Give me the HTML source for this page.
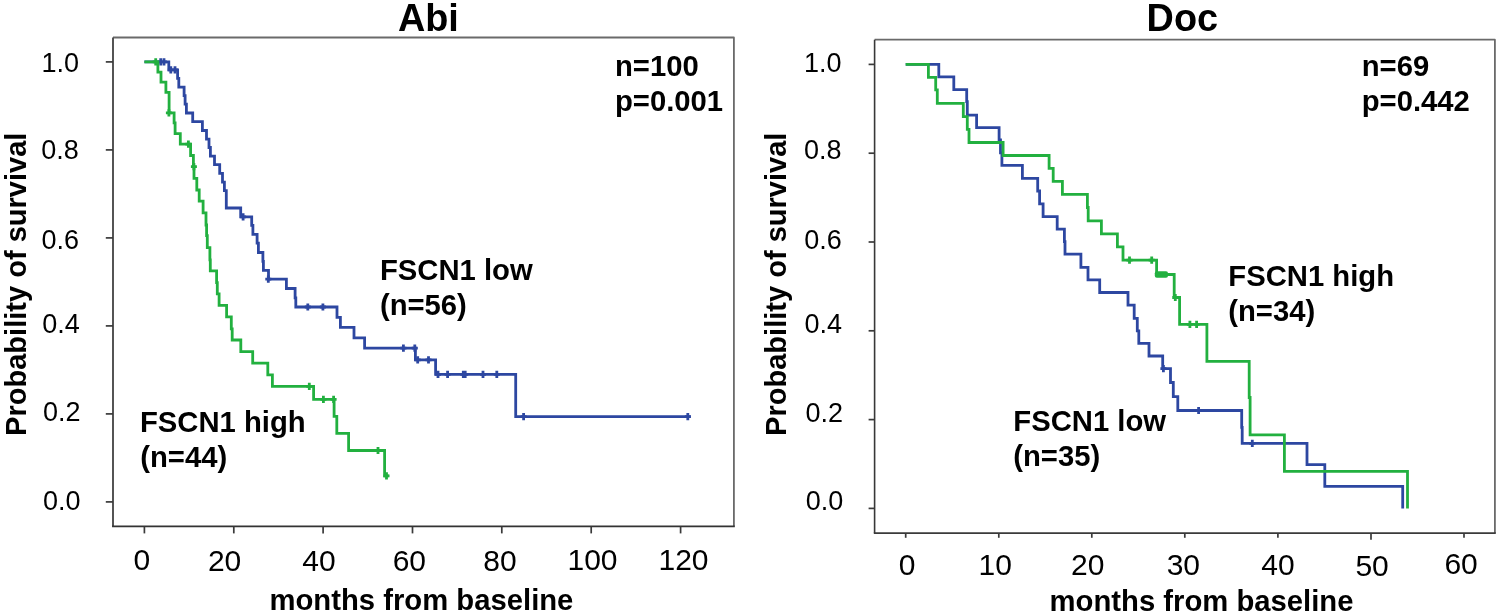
<!DOCTYPE html>
<html><head><meta charset="utf-8"><style>
html,body{margin:0;padding:0;background:#fff;overflow:hidden;}
svg{display:block;}
#wrap{width:1500px;height:616px;will-change:transform;}
text{font-family:"Liberation Sans",sans-serif;fill:#000;}
</style></head><body><div id="wrap">
<svg width="1500" height="616" viewBox="0 0 1500 616">
<rect width="1500" height="616" fill="#fff"/>
<path d="M113.0,37.5 H733.9 V526.4" fill="none" stroke="#6a6a6a" stroke-width="1.8" stroke-linejoin="round"/>
<path d="M113.0,37.5 V526.4" fill="none" stroke="#4c4c4c" stroke-width="1.9"/>
<path d="M112.05,526.4 H734.8" fill="none" stroke="#333" stroke-width="1.9"/>
<path d="M105.8,501.9 H113.0" stroke="#3a3a3a" stroke-width="1.7"/>
<path d="M105.8,413.9 H113.0" stroke="#3a3a3a" stroke-width="1.7"/>
<path d="M105.8,325.9 H113.0" stroke="#3a3a3a" stroke-width="1.7"/>
<path d="M105.8,237.9 H113.0" stroke="#3a3a3a" stroke-width="1.7"/>
<path d="M105.8,149.9 H113.0" stroke="#3a3a3a" stroke-width="1.7"/>
<path d="M105.8,61.9 H113.0" stroke="#3a3a3a" stroke-width="1.7"/>
<path d="M144.4,526.4 V533.4" stroke="#3a3a3a" stroke-width="1.7"/>
<path d="M233.8,526.4 V533.4" stroke="#3a3a3a" stroke-width="1.7"/>
<path d="M323.1,526.4 V533.4" stroke="#3a3a3a" stroke-width="1.7"/>
<path d="M412.5,526.4 V533.4" stroke="#3a3a3a" stroke-width="1.7"/>
<path d="M501.8,526.4 V533.4" stroke="#3a3a3a" stroke-width="1.7"/>
<path d="M591.2,526.4 V533.4" stroke="#3a3a3a" stroke-width="1.7"/>
<path d="M680.6,526.4 V533.4" stroke="#3a3a3a" stroke-width="1.7"/>
<path d="M874.6,39.7 H1494.9 V533.1" fill="none" stroke="#6a6a6a" stroke-width="1.8" stroke-linejoin="round"/>
<path d="M874.6,39.7 V533.1" fill="none" stroke="#383838" stroke-width="1.6"/>
<path d="M873.8000000000001,533.1 H1495.8000000000002" fill="none" stroke="#3a3a3a" stroke-width="1.8"/>
<path d="M868.6,508.4 H874.6" stroke="#3a3a3a" stroke-width="1.7"/>
<path d="M868.6,419.6 H874.6" stroke="#3a3a3a" stroke-width="1.7"/>
<path d="M868.6,330.8 H874.6" stroke="#3a3a3a" stroke-width="1.7"/>
<path d="M868.6,242.0 H874.6" stroke="#3a3a3a" stroke-width="1.7"/>
<path d="M868.6,153.2 H874.6" stroke="#3a3a3a" stroke-width="1.7"/>
<path d="M868.6,64.4 H874.6" stroke="#3a3a3a" stroke-width="1.7"/>
<path d="M905.7,533.1 V537.8000000000001" stroke="#3a3a3a" stroke-width="1.7"/>
<path d="M998.8,533.1 V537.8000000000001" stroke="#3a3a3a" stroke-width="1.7"/>
<path d="M1091.8,533.1 V537.8000000000001" stroke="#3a3a3a" stroke-width="1.7"/>
<path d="M1184.8,533.1 V537.8000000000001" stroke="#3a3a3a" stroke-width="1.7"/>
<path d="M1277.9,533.1 V537.8000000000001" stroke="#3a3a3a" stroke-width="1.7"/>
<path d="M1371.0,533.1 V539.7" stroke="#3a3a3a" stroke-width="1.7"/>
<path d="M1464.0,533.1 V537.8000000000001" stroke="#3a3a3a" stroke-width="1.7"/>
<text transform="translate(397.9,30.6) scale(1,1.03)" style="font-size:37.8px;font-weight:bold;" text-anchor="start" >Abi</text>
<text transform="translate(1146.6,30.5) scale(1,1.03)" style="font-size:37.8px;font-weight:bold;" text-anchor="start" >Doc</text>
<text transform="translate(615.0,75.9) scale(1,1.03)" style="font-size:29.25px;font-weight:bold;" text-anchor="start" >n=100</text>
<text transform="translate(615.0,111.2) scale(1,1.03)" style="font-size:29.25px;font-weight:bold;" text-anchor="start" >p=0.001</text>
<text transform="translate(1361.7,75.9) scale(1,1.03)" style="font-size:29.25px;font-weight:bold;" text-anchor="start" >n=69</text>
<text transform="translate(1361.7,111.0) scale(1,1.03)" style="font-size:29.25px;font-weight:bold;" text-anchor="start" >p=0.442</text>
<text transform="translate(379.9,279.9) scale(1,1.03)" style="font-size:29.25px;font-weight:bold;" text-anchor="start" >FSCN1 low</text>
<text transform="translate(379.9,315.0) scale(1,1.03)" style="font-size:29.25px;font-weight:bold;" text-anchor="start" >(n=56)</text>
<text transform="translate(140.0,432.4) scale(1,1.03)" style="font-size:29.25px;font-weight:bold;" text-anchor="start" >FSCN1 high</text>
<text transform="translate(140.2,467.3) scale(1,1.03)" style="font-size:29.25px;font-weight:bold;" text-anchor="start" >(n=44)</text>
<text transform="translate(1228.3,285.7) scale(1,1.03)" style="font-size:29.25px;font-weight:bold;" text-anchor="start" >FSCN1 high</text>
<text transform="translate(1228.2,321.0) scale(1,1.03)" style="font-size:29.25px;font-weight:bold;" text-anchor="start" >(n=34)</text>
<text transform="translate(1013.3,430.7) scale(1,1.03)" style="font-size:29.25px;font-weight:bold;" text-anchor="start" >FSCN1 low</text>
<text transform="translate(1013.2,465.7) scale(1,1.03)" style="font-size:29.25px;font-weight:bold;" text-anchor="start" >(n=35)</text>
<text transform="translate(269.5,610.3) scale(1,1.03)" style="font-size:29.25px;font-weight:bold;" text-anchor="start" >months from baseline</text>
<text transform="translate(1049.6,610.8) scale(1,1.03)" style="font-size:29.25px;font-weight:bold;" text-anchor="start" >months from baseline</text>
<text transform="translate(26.3,435.9) rotate(-90) scale(1,1.03)" style="font-size:29.05px;font-weight:bold">Probability of survival</text>
<text transform="translate(786.4,435.9) rotate(-90) scale(1,1.03)" style="font-size:29.05px;font-weight:bold">Probability of survival</text>
<text x="133.4" y="570.4" style="font-size:30px;" text-anchor="start" >0</text>
<text x="207.9" y="571.3" style="font-size:30px;" text-anchor="start" >20</text>
<text x="302.3" y="570.7" style="font-size:30px;" text-anchor="start" >40</text>
<text x="392.7" y="570.5" style="font-size:30px;" text-anchor="start" >60</text>
<text x="483.3" y="570.9" style="font-size:30px;" text-anchor="start" >80</text>
<text x="567.5" y="570.1" style="font-size:30px;" text-anchor="start" >100</text>
<text x="658.5" y="570.1" style="font-size:30px;" text-anchor="start" >120</text>
<text x="898.8" y="575.2" style="font-size:30px;" text-anchor="start" >0</text>
<text x="978.5" y="575.2" style="font-size:30px;" text-anchor="start" >10</text>
<text x="1071.0" y="575.2" style="font-size:30px;" text-anchor="start" >20</text>
<text x="1166.7" y="575.2" style="font-size:30px;" text-anchor="start" >30</text>
<text x="1261.3" y="575.2" style="font-size:30px;" text-anchor="start" >40</text>
<text x="1355.4" y="576.4" style="font-size:30px;" text-anchor="start" >50</text>
<text x="1444.4" y="574.4" style="font-size:30px;" text-anchor="start" >60</text>
<text x="41.4" y="71.6" style="font-size:27px;" text-anchor="start" >1.0</text>
<text x="41.2" y="158.8" style="font-size:27px;" text-anchor="start" >0.8</text>
<text x="41.6" y="249.2" style="font-size:27px;" text-anchor="start" >0.6</text>
<text x="42.2" y="332.8" style="font-size:27px;" text-anchor="start" >0.4</text>
<text x="42.9" y="421.0" style="font-size:27px;" text-anchor="start" >0.2</text>
<text x="42.9" y="509.6" style="font-size:27px;" text-anchor="start" >0.0</text>
<text x="804.1" y="72.0" style="font-size:27px;" text-anchor="start" >1.0</text>
<text x="803.9" y="158.9" style="font-size:27px;" text-anchor="start" >0.8</text>
<text x="804.2" y="249.4" style="font-size:27px;" text-anchor="start" >0.6</text>
<text x="804.6" y="333.1" style="font-size:27px;" text-anchor="start" >0.4</text>
<text x="805.6" y="421.5" style="font-size:27px;" text-anchor="start" >0.2</text>
<text x="805.7" y="509.9" style="font-size:27px;" text-anchor="start" >0.0</text>
<path d="M905.7,64.3 H938.8 V76.9 H953.8 V89.6 H966.7 V101.6 H967.3 V115.2 H976.6 V127.6 H999.1 V139.8 H1000.5 V152.8 H1001.9 V165.3 H1022.4 V178.3 H1037.7 V191 H1039.6 V203.9 H1043.1 V216.6 H1057.2 V229.2 H1064.4 V241.7 H1065 V254.2 H1080.9 V267.3 H1088 V279.8 H1099.7 V292.5 H1128 V305.2 H1134.2 V318.3 H1137.3 V330.8 H1138.8 V343.3 H1149 V356 H1162.7 V368.6 H1170.5 V382.5 H1173.3 V396.7 H1177.8 V410.5 H1241.7 V427.4 H1242.2 V443.3 H1307 V464.6 H1324.8 V486.4 H1402.7 V508.4" fill="none" stroke="#2d47a1" stroke-width="2.8" stroke-linejoin="miter" stroke-linecap="butt"/>
<path d="M1163.4,365.0 V372.2 M1160.4,368.6 H1166.4 M1198.6,406.9 V414.1 M1195.6,410.5 H1201.6 M1252.3,439.7 V446.9 M1249.3,443.3 H1255.3" fill="none" stroke="#2d47a1" stroke-width="2.8"/>
<path d="M144.4,61.9 H168.8 V69.9 H177.6 V78.3 H178.8 V87.1 H184.1 V95.6 H185.1 V104.1 H186.4 V113 H192.7 V121.7 H202.4 V130.5 H206.5 V139.1 H209 V147.5 H210.4 V156.2 H214.5 V164.6 H219.7 V173.4 H222.5 V182.2 H224.4 V190.6 H226.3 V208 H240.7 V216.9 H251.7 V225.4 H252.9 V234.4 H257.1 V243.1 H258.4 V252.5 H262.9 V261.4 H263.4 V270.3 H268.5 V279.2 H286.4 V288.5 H295.1 V297.8 H295.8 V307 H337 V317.3 H340.4 V327.3 H354 V337.9 H364.6 V348.1 H415.4 V359.9 H435.6 V374.4 H515.7 V416.7 H690.8" fill="none" stroke="#2d47a1" stroke-width="2.8" stroke-linejoin="miter" stroke-linecap="butt"/>
<path d="M160.7,58.3 V65.5 M157.7,61.9 H163.7 M164.0,58.3 V65.5 M161.0,61.9 H167.0 M170.8,66.3 V73.5 M167.8,69.9 H173.8 M175.0,66.3 V73.5 M172.0,69.9 H178.0 M243.1,213.3 V220.5 M240.1,216.9 H246.1 M268.3,275.6 V282.8 M265.3,279.2 H271.3 M307.8,303.4 V310.6 M304.8,307.0 H310.8 M322.9,303.4 V310.6 M319.9,307.0 H325.9 M403.4,344.5 V351.7 M400.4,348.1 H406.4 M414.8,344.5 V351.7 M411.8,348.1 H417.8 M417.7,356.3 V363.5 M414.7,359.9 H420.7 M428.5,356.3 V363.5 M425.5,359.9 H431.5 M438.0,370.8 V378.0 M435.0,374.4 H441.0 M447.6,370.8 V378.0 M444.6,374.4 H450.6 M463.3,370.8 V378.0 M460.3,374.4 H466.3 M465.2,370.8 V378.0 M462.2,374.4 H468.2 M483.0,370.8 V378.0 M480.0,374.4 H486.0 M496.8,370.8 V378.0 M493.8,374.4 H499.8 M523.6,413.1 V420.3 M520.6,416.7 H526.6 M687.8,413.1 V420.3 M684.8,416.7 H690.8" fill="none" stroke="#2d47a1" stroke-width="2.8"/>
<path d="M144.4,61.9 H157.9 V72.1 H161 V82.2 H165.9 V92.4 H169.1 V112.8 H174.1 V122.9 H175.1 V133.6 H180.3 V144.1 H190.6 V155.5 H193.4 V166.6 H194.0 V178.3 H196.8 V190 H199.2 V201.2 H203.1 V212.9 H206 V225 H206.6 V235.6 H207.3 V247.7 H209.9 V259.8 H210.3 V270.8 H216.6 V282.7 H217.3 V293.8 H219.1 V305.4 H226.6 V316.9 H231.3 V328.8 H232.2 V340 H240.8 V351.6 H252.7 V363.2 H267.8 V374.9 H272.4 V386.3 H313.6 V399.3 H334.1 V416.3 H336.8 V433.4 H348.6 V450.5 H384.6 V475.8 H388.5" fill="none" stroke="#22b03f" stroke-width="2.8" stroke-linejoin="miter" stroke-linecap="butt"/>
<path d="M155.7,58.3 V65.5 M152.7,61.9 H158.7 M168.9,109.2 V116.4 M165.9,112.8 H171.9 M188.4,140.5 V147.7 M185.4,144.1 H191.4 M193.9,163.0 V170.2 M190.9,166.6 H196.9 M309.3,382.7 V389.9 M306.3,386.3 H312.3 M323.4,395.7 V402.9 M320.4,399.3 H326.4 M333.6,395.7 V402.9 M330.6,399.3 H336.6 M378.0,446.9 V454.1 M375.0,450.5 H381.0 M386.5,472.2 V479.4 M383.5,475.8 H389.5" fill="none" stroke="#22b03f" stroke-width="2.8"/>
<path d="M905.7,64.3 H928.4 V77.3 H935.7 V89.9 H937.3 V103.4 H963.3 V116.6 H967.3 V129.4 H969 V142.5 H1003.1 V155.5 H1049.1 V168.4 H1053.2 V181.4 H1062.4 V194.4 H1087.4 V207.5 H1088.2 V220.9 H1101.4 V233.8 H1117.4 V246.9 H1123 V260.1 H1156.6 V274.5 H1174.2 V297.5 H1179.6 V324.4 H1206.9 V361.3 H1249.2 V397.5 H1250.1 V434.8 H1284.4 V471.4 H1407.5 V508.4" fill="none" stroke="#22b03f" stroke-width="2.8" stroke-linejoin="miter" stroke-linecap="butt"/>
<path d="M1129.5,256.5 V263.7 M1126.5,260.1 H1132.5 M1151.7,256.5 V263.7 M1148.7,260.1 H1154.7 M1175.3,293.9 V301.1 M1172.3,297.5 H1178.3 M1189.9,320.8 V328.0 M1186.9,324.4 H1192.9 M1196.6,320.8 V328.0 M1193.6,324.4 H1199.6" fill="none" stroke="#22b03f" stroke-width="2.8"/>
<rect x="1154.8" y="271.2" width="13.2" height="6.6" rx="2" fill="#22b03f"/>
</svg></div>
</body></html>
